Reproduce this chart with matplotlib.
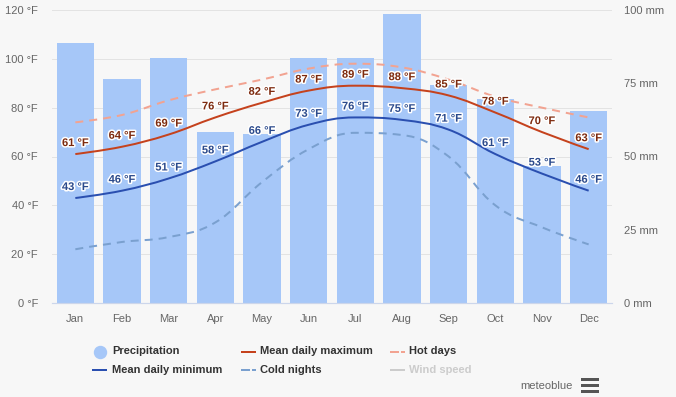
import matplotlib
matplotlib.use('Agg')
import matplotlib.pyplot as plt
import matplotlib.patheffects as pe
import numpy as np
from matplotlib.lines import Line2D
from matplotlib.path import Path
from matplotlib.patches import PathPatch

# Climate data
months = ['Jan', 'Feb', 'Mar', 'Apr', 'May', 'Jun',
          'Jul', 'Aug', 'Sep', 'Oct', 'Nov', 'Dec']
precip_mm = [88.7, 76.5, 83.6, 58.4, 57.7, 83.6,
             83.6, 98.6, 74.4, 69.6, 46.8, 65.5]
mean_max_f = [61, 64, 69, 76, 82, 87, 89, 88, 85, 78, 70, 63]
mean_min_f = [43, 46, 51, 58, 66, 73, 76, 75, 71, 61, 53, 46]
hot_days_f = [74, 77, 83, 87.5, 91.5, 96, 98, 96.5, 91.5, 84.5, 80, 76]
cold_nights_f = [22, 25, 27, 33, 49.5, 63, 69.7, 68.8, 60, 40, 31, 24]

BG = '#f7f7f7'
BAR = '#a6c7f8'
RED = '#c5421d'
BLUE = '#2a4fb0'
HOT = '#f2a391'
COLD = '#7aa0cf'
PX = 72 / 100  # one pixel in points
FONT = 'Liberation Sans'

plt.rcParams['font.family'] = [FONT, 'DejaVu Sans']


def spline_path(xs, ys, smoothing=1.5):
    """Bezier path through the points, same control-point rule as Highcharts spline."""
    n = len(xs)
    left = [(xs[i], ys[i]) for i in range(n)]
    right = [(xs[i], ys[i]) for i in range(n)]
    denom = smoothing + 1
    for i in range(1, n - 1):
        px, py = xs[i], ys[i]
        lx, ly = xs[i - 1], ys[i - 1]
        nx, ny = xs[i + 1], ys[i + 1]
        lcx = (smoothing * px + lx) / denom
        lcy = (smoothing * py + ly) / denom
        rcx = (smoothing * px + nx) / denom
        rcy = (smoothing * py + ny) / denom
        if rcx != lcx:
            # shift both control points so the tangent passes through the point
            corr = py - lcy - (rcy - lcy) * (px - lcx) / (rcx - lcx)
            lcy += corr
            rcy += corr
        if lcy > ly and lcy > py:
            lcy = max(ly, py)
            rcy = 2 * py - lcy
        elif lcy < ly and lcy < py:
            lcy = min(ly, py)
            rcy = 2 * py - lcy
        if rcy > ny and rcy > py:
            rcy = max(ny, py)
            lcy = 2 * py - rcy
        elif rcy < ny and rcy < py:
            rcy = min(ny, py)
            lcy = 2 * py - rcy
        left[i] = (lcx, lcy)
        right[i] = (rcx, rcy)
    verts = [(xs[0], ys[0])]
    codes = [Path.MOVETO]
    for i in range(1, n):
        verts += [right[i - 1], left[i], (xs[i], ys[i])]
        codes += [Path.CURVE4] * 3
    return Path(verts, codes)


fig = plt.figure(figsize=(6.76, 3.97), dpi=100, facecolor=BG)
ax = fig.add_axes([52 / 676, 1 - 303 / 397, 560 / 676, 293 / 397])
ax2 = ax.twinx()

x = np.arange(len(months))

# precipitation bars on the mm axis
ax2.bar(x, precip_mm, width=0.8, color=BAR, zorder=1)
ax2.set_ylim(0, 100)
ax2.set_yticks([0, 25, 50, 75, 100])
ax2.set_yticklabels([f'{v} mm' for v in [0, 25, 50, 75, 100]])

ax.set_zorder(ax2.get_zorder() + 1)
ax.patch.set_visible(False)
ax2.patch.set_facecolor(BG)

ax.set_xlim(-0.5, len(months) - 0.5)
ax.set_ylim(0, 120)
ax.set_yticks(range(0, 121, 20))
ax.set_yticklabels([f'{v} °F' for v in range(0, 121, 20)])
ax.set_xticks(x)
ax.set_xticklabels(months)

# grid lines drawn on the bar axis so they sit behind the bars
for v in range(20, 121, 20):
    ax2.axhline(v / 1.2, color='#e3e3e3', lw=1 * PX, zorder=0)
ax.axhline(0, color='#ccd6eb', lw=1.2 * PX, zorder=5, clip_on=False)

for a in (ax, ax2):
    for s in a.spines.values():
        s.set_visible(False)
    a.tick_params(length=0, colors='#666666', labelsize=8)
ax.tick_params(axis='y', pad=10)
ax.tick_params(axis='x', pad=8)
ax2.tick_params(axis='y', pad=9)

lw = 2 * PX
curves = [
    (hot_days_f, HOT, (0, (4, 3))),
    (cold_nights_f, COLD, (0, (4, 3))),
    (mean_max_f, RED, 'solid'),
    (mean_min_f, BLUE, 'solid'),
]
for vals, col, ls in curves:
    patch = PathPatch(spline_path(list(x.astype(float)), list(map(float, vals))),
                      facecolor='none', edgecolor=col, lw=lw, linestyle=ls,
                      capstyle='butt', zorder=3)
    ax.add_patch(patch)

halo = [pe.withStroke(linewidth=2.2, foreground='white')]
for vals, col in [(mean_max_f, '#7d2a0e'), (mean_min_f, '#2b4a8c')]:
    for xi, v in zip(x, vals):
        ax.annotate(f'{v} °F', (xi, v), xytext=(0, 11 * PX),
                    textcoords='offset points', ha='center', va='center',
                    fontsize=8, fontweight='bold', color=col,
                    path_effects=halo, zorder=6)


# legend drawn by hand to follow the original two-row layout
def fx(px):
    return px / 676


def fy(py):
    return 1 - py / 397


legend_items = [
    # (label, symbol, colour, symbol x, text x, row y)
    ('Precipitation', 'dot', BAR, 93, 112, 351.5),
    ('Mean daily maximum', 'line', RED, 242, 260, 351.5),
    ('Hot days', 'dashdot', HOT, 391, 409, 351.5),
    ('Mean daily minimum', 'line', BLUE, 93, 112, 370),
    ('Cold nights', 'dashdot', COLD, 242, 260, 370),
    ('Wind speed', 'line', '#cccccc', 391, 409, 370),
]
for label, kind, col, sx, tx, ry in legend_items:
    if kind == 'dot':
        fig.add_artist(Line2D([fx(sx + 7)], [fy(ry)], marker='o', ls='none',
                              color=col, markersize=12 * PX))
    elif kind == 'line':
        fig.add_artist(Line2D([fx(sx), fx(sx + 13)], [fy(ry)] * 2,
                              color=col, lw=2 * PX))
    else:
        fig.add_artist(Line2D([fx(sx), fx(sx + 7)], [fy(ry)] * 2,
                              color=col, lw=2 * PX))
        fig.add_artist(Line2D([fx(sx + 11), fx(sx + 13)], [fy(ry)] * 2,
                              color=col, lw=2 * PX))
    txt_col = '#cccccc' if label == 'Wind speed' else '#333333'
    fig.text(fx(tx), fy(ry), label, ha='left', va='center', fontsize=8,
             fontweight='bold', color=txt_col)

fig.text(fx(573), fy(386), 'meteoblue', ha='right', va='center',
         fontsize=8, color='#666666')
for dy in (379, 385, 391):
    fig.add_artist(Line2D([fx(582), fx(597)], [fy(dy)] * 2,
                          color='#555555', lw=3 * PX))

fig.savefig('out.png', dpi=100, facecolor=BG)
